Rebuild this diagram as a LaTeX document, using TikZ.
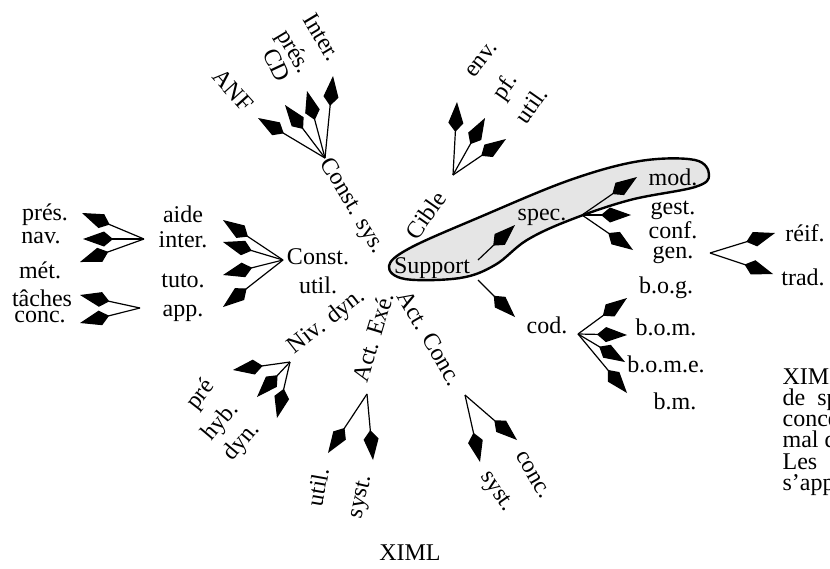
\documentclass[tikz,border=0pt]{standalone}
\usepackage{fontspec}
\setmainfont{Liberation Serif}
\usetikzlibrary{arrows.meta,positioning}

\begin{document}
\begin{tikzpicture}[->,>={Kite[length=15pt,width=7.5pt,inset=4.5pt]},
 x=0.5pt, y=-0.5pt, semithick, inner sep=0pt,
 font=\fontsize{12}{12}\selectfont]
 \useasboundingbox (0,0) rectangle (830,568);
 \clip (0,0) rectangle (830,568);
 % zone grisee
 \draw[-, line width=1.2pt, fill=gray!20] plot[smooth cycle, tension=0.6] coordinates {(389,266) (410,248) (480,217) (570,180) (640,161) (695,160) (709,175) (695,187) (630,200) (570,220) (527,240) (495,265) (460,278) (405,279)};
 % Const. sys.
 \node[rotate=-59] (csys) at (352,206) {Const. sys.};
 \node[rotate=-59] (inter) at (322,37) {Inter.};
 \node[rotate=-59] (pres) at (293,52) {prés.};
 \node[rotate=-65] (cd) at (277,65) {CD};
 \node[rotate=-48] (anf) at (233,90) {ANF};
 \coordinate (hcsys) at (325,158);
 \coordinate (tanf) at (258,118);
 \coordinate (tcd) at (285,105);
 \coordinate (tpres) at (307,91);
 \coordinate (tinter) at (333,76);
 \path (hcsys) edge (tanf) edge (tcd) edge (tpres) edge (tinter);
 % Cible
 \node[rotate=55] (cible) at (426,215) {Cible};
 \node[rotate=52] (env) at (482,60) {env.};
 \node[rotate=55] (pf) at (506,87) {pf.};
 \node[rotate=55] (utilc) at (531,105) {util.};
 \coordinate (hcible) at (453,175);
 \coordinate (tenv) at (457,102);
 \coordinate (tpf) at (485,118);
 \coordinate (tutilc) at (506,139);
 \path (hcible) edge (tenv) edge (tpf) edge (tutilc);
 % Const. util.
 \node (const) at (318,257) {Const.};
 \node (cutil) at (318,285) {util.};
 \node (aide) at (183,214) {aide};
 \node (interb) at (183,240) {inter.};
 \node (tuto) at (183,281) {tuto.};
 \node (app) at (183,313) {app.};
 \coordinate (hcutil) at (283,260);
 \coordinate (taide) at (223,220);
 \coordinate (tinterb) at (223,242);
 \coordinate (ttuto) at (223,275);
 \coordinate (tapp) at (223,307);
 \path (hcutil) edge (taide) edge (tinterb) edge (ttuto) edge (tapp);
 \node (presb) at (45,215) {prés.};
 \node (nav) at (41,238) {nav.};
 \node (met) at (40,270) {mét.};
 \node (taches) at (42,298) {tâches};
 \node (concb) at (40,317) {conc.};
 \coordinate (hinter) at (144,239);
 \coordinate (tpresb) at (82,213);
 \coordinate (tnav) at (83,239);
 \coordinate (tmet) at (80,262);
 \path (hinter) edge (tpresb) edge (tnav) edge (tmet);
 \coordinate (happ) at (140,308);
 \coordinate (ttaches) at (80,295);
 \coordinate (tconcb) at (80,323);
 \path (happ) edge (ttaches) edge (tconcb);
 % Support
 \node (support) at (432,268) {Support};
 \node (spec) at (542,217) {spec.};
 \node (mod) at (673,177) {mod.};
 \node (gest) at (673,210) {gest.};
 \node (conf) at (673,230) {conf.};
 \node (gen) at (673,255) {gen.};
 \node (reif) at (805,233) {réif.};
 \node (trad) at (803,277) {trad.};
 \coordinate (ssup) at (478,260);
 \coordinate (tspec) at (515,225);
 \path (ssup) edge (tspec);
 \coordinate (hspec) at (582,215);
 \coordinate (tmod) at (637,177);
 \coordinate (tgest) at (631,215);
 \coordinate (tgen) at (633,250);
 \path (hspec) edge (tmod) edge (tgest) edge (tgen);
 \coordinate (hgen) at (710,253);
 \coordinate (treif) at (775,233);
 \coordinate (ttrad) at (773,274);
 \path (hgen) edge (treif) edge (ttrad);
 % cod.
 \node (cod) at (547,325) {cod.};
 \node (bog) at (666,288) {b.o.g.};
 \node (bom) at (666,327) {b.o.m.};
 \node (bome) at (666,364) {b.o.m.e.};
 \node (bm) at (675,401) {b.m.};
 \coordinate (scod) at (478,280);
 \coordinate (tcod) at (515,317);
 \path (scod) edge (tcod);
 \coordinate (hcod) at (578,334);
 \coordinate (tbog) at (627,298);
 \coordinate (tbom) at (627,335);
 \coordinate (tbome) at (625,362);
 \coordinate (tbm) at (627,393);
 \path (hcod) edge (tbog) edge (tbom) edge (tbome) edge (tbm);
 % Niv. dyn.
 \node[rotate=38] (niv) at (327,322) {Niv. dyn.};
 \node[rotate=52] (pre) at (201,395) {pré};
 \node[rotate=50] (hyb) at (221,422) {hyb.};
 \node[rotate=50] (dyn) at (242,442) {dyn.};
 \coordinate (hniv) at (290,362);
 \coordinate (tpre) at (233,370);
 \coordinate (thyb) at (257,397);
 \coordinate (tdyn) at (277,418);
 \path (hniv) edge (tpre) edge (thyb) edge (tdyn);
 % Act. Exe.
 \node[rotate=73] (exe) at (373,337) {Act. Exé.};
 \node[rotate=80] (utile) at (318,487) {util.};
 \node[rotate=77] (syste) at (362,497) {syst.};
 \coordinate (hexe) at (367,394);
 \coordinate (tutile) at (328,453);
 \coordinate (tsyste) at (373,460);
 \path (hexe) edge (tutile) edge (tsyste);
 % Act. Conc.
 \node[rotate=-60] (actconc) at (430,338) {Act. Conc.};
 \node[rotate=-55] (systc) at (496,492) {syst.};
 \node[rotate=-60] (concc) at (533,475) {conc.};
 \coordinate (hconc) at (465,395);
 \coordinate (tsystc) at (480,462);
 \coordinate (tconcc) at (517,440);
 \path (hconc) edge (tsystc) edge (tconcc);
 % legende
 \node (ximl) at (410,553) {XIML};
 \node[anchor=north west, align=left, font=\fontsize{12}{10.6}\selectfont] (texte) at (782,368)
 {XIML\\ de\hspace{6pt}sp\\ conce\\ mal d\\ Les\hspace{7pt}a\\ s’app};
\end{tikzpicture}
\end{document}
